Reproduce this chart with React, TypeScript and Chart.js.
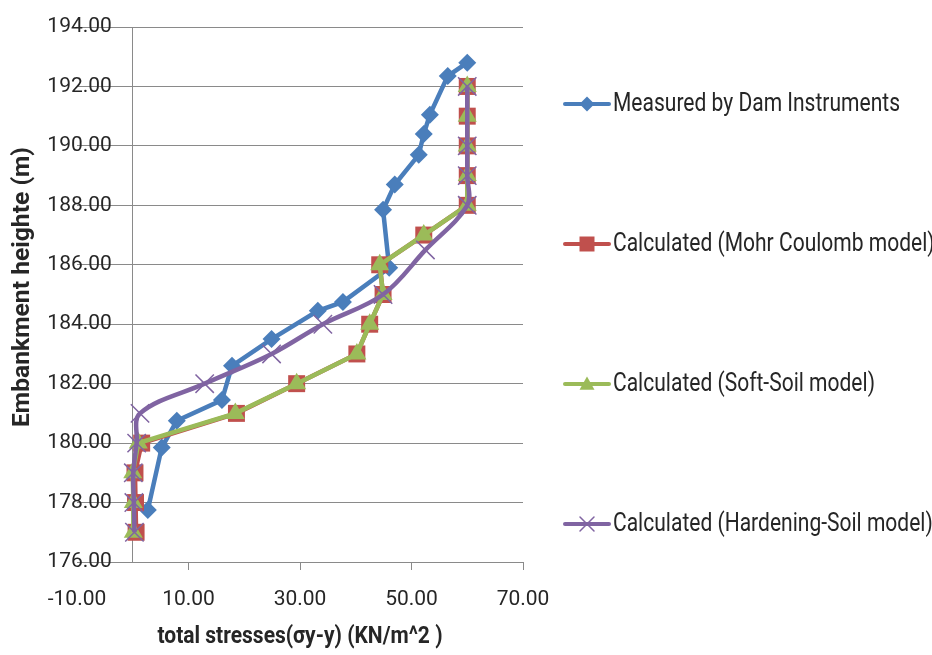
import React, { useEffect, useRef } from 'react';
import { Chart, registerables } from 'chart.js';

Chart.register(...registerables);

// ---------- data ----------
const seriesNames = [
  'Measured by Dam Instruments',
  'Calculated (Mohr Coulomb model)',
  'Calculated (Soft-Soil model)',
  'Calculated (Hardening-Soil model)',
];

const measuredStress = [60.0, 56.5, 53.3, 52.2, 51.3, 47.0, 44.9, 46.0, 37.7, 33.2, 24.9, 17.8, 16.0, 7.9, 5.2, 2.7];
const measuredHeight = [192.8, 192.35, 191.05, 190.4, 189.7, 188.7, 187.85, 185.9, 184.75, 184.45, 183.5, 182.6, 181.45, 180.75, 179.85, 177.75];

const modelHeight = [192, 191, 190, 189, 188, 187, 186, 185, 184, 183, 182, 181, 180, 179, 178, 177];
const mohrStress = [60, 60, 60, 60, 60, 52.2, 44.3, 44.9, 42.5, 40.2, 29.4, 18.6, 1.6, 0.4, 0.5, 0.6];
const softStress = [60, 60, 60, 60, 60, 52.2, 44.3, 44.9, 42.5, 40.2, 29.4, 18.4, 1.0, 0.0, 0.1, 0.1];

const hardHeight = [192, 190, 189, 188, 186.5, 185, 184, 183, 182, 181, 180, 179, 178, 177];
const hardStress = [60, 60, 60, 60, 52.5, 44.9, 34.1, 24.9, 12.9, 1.3, 0.7, 0.1, 0.2, 0.3];

const xTickValues = [-10, 10, 30, 50, 70];
const xMin = -10;
const xMax = 70;
const yMin = 176;
const yMax = 194;
const yStep = 2;

const xTitle = 'total stresses(σy-y) (KN/m^2 )';
const yTitle = 'Embankment heighte (m)';

// ---------- styles ----------
const FONT = "Roboto, 'Liberation Sans', sans-serif";
const TEXT = '#262626';
const GRID = '#8a8a8a';
const COLORS = ['#4A7EBB', '#C0504D', '#9BBB59', '#8064A2'];
const STYLES = ['rectRot', 'rect', 'triangle', 'crossRot'];

const toPoints = (xs: number[], ys: number[]) => xs.map((x, i) => ({ x, y: ys[i] }));

function drawMarker(ctx: CanvasRenderingContext2D, style: string, x: number, y: number, r: number, color: string) {
  ctx.save();
  ctx.fillStyle = color;
  ctx.strokeStyle = color;
  ctx.beginPath();
  if (style === 'rectRot') {
    ctx.moveTo(x, y - r);
    ctx.lineTo(x + r, y);
    ctx.lineTo(x, y + r);
    ctx.lineTo(x - r, y);
    ctx.closePath();
    ctx.fill();
  } else if (style === 'rect') {
    ctx.rect(x - r, y - r, 2 * r, 2 * r);
    ctx.fill();
  } else if (style === 'triangle') {
    ctx.moveTo(x, y - r);
    ctx.lineTo(x + r, y + r * 0.75);
    ctx.lineTo(x - r, y + r * 0.75);
    ctx.closePath();
    ctx.fill();
  } else {
    ctx.lineWidth = 1.5;
    ctx.moveTo(x - r, y - r);
    ctx.lineTo(x + r, y + r);
    ctx.moveTo(x + r, y - r);
    ctx.lineTo(x - r, y + r);
    ctx.stroke();
  }
  ctx.restore();
}

// draw text horizontally scaled to a target width
function fitText(ctx: CanvasRenderingContext2D, text: string, x: number, y: number, sx: number) {
  ctx.save();
  ctx.translate(x, y);
  ctx.scale(sx, 1);
  ctx.fillText(text, 0, 0);
  ctx.restore();
}

const overlayPlugin = {
  id: 'overlay',
  afterDraw(chart: any) {
    const { ctx, chartArea } = chart;
    ctx.save();
    ctx.fillStyle = TEXT;
    ctx.textBaseline = 'middle';

    // x title
    ctx.font = `bold 24px ${FONT}`;
    ctx.textAlign = 'center';
    let w = ctx.measureText(xTitle).width;
    fitText(ctx, xTitle, (chartArea.left + chartArea.right) / 2, 637, 285 / w);

    // y title
    ctx.font = `bold 23px ${FONT}`;
    w = ctx.measureText(yTitle).width;
    ctx.save();
    ctx.translate(23, 287);
    ctx.rotate(-Math.PI / 2);
    fitText(ctx, yTitle, 0, 0, 280 / w);
    ctx.restore();

    // legend
    ctx.font = `25px ${FONT}`;
    ctx.textAlign = 'left';
    const sx = 287 / ctx.measureText(seriesNames[0]).width;
    seriesNames.forEach((name, i) => {
      const cy = 104 + 140 * i;
      ctx.strokeStyle = COLORS[i];
      ctx.lineWidth = 4;
      ctx.lineCap = 'round';
      ctx.beginPath();
      ctx.moveTo(565, cy);
      ctx.lineTo(609, cy);
      ctx.stroke();
      drawMarker(ctx, STYLES[i], 587, cy, i === 3 ? 7 : 7.5, COLORS[i]);
      ctx.fillStyle = TEXT;
      fitText(ctx, name, 613, cy + 1, sx);
    });
    ctx.restore();
  },
};

export default function App() {
  const canvasRef = useRef<HTMLCanvasElement | null>(null);

  useEffect(() => {
    const canvas = canvasRef.current;
    if (!canvas) return;
    const lineW = 4.5;
    const chart = new Chart(canvas, {
      type: 'scatter',
      data: {
        datasets: [
          {
            label: seriesNames[0],
            data: toPoints(measuredStress, measuredHeight),
            showLine: true,
            borderColor: COLORS[0],
            backgroundColor: COLORS[0],
            borderWidth: lineW,
            pointStyle: 'rectRot',
            pointRadius: 9,
            pointBorderWidth: 0,
            order: 4,
          },
          {
            label: seriesNames[1],
            data: toPoints(mohrStress, modelHeight),
            showLine: true,
            borderColor: COLORS[1],
            backgroundColor: COLORS[1],
            borderWidth: lineW,
            pointStyle: 'rect',
            pointRadius: 12,
            pointBorderWidth: 0,
            order: 3,
          },
          {
            label: seriesNames[2],
            data: toPoints(softStress, modelHeight),
            showLine: true,
            borderColor: COLORS[2],
            backgroundColor: COLORS[2],
            borderWidth: lineW,
            pointStyle: 'triangle',
            pointRadius: 11,
            pointBorderWidth: 0,
            order: 2,
          },
          {
            label: seriesNames[3],
            data: toPoints(hardStress, hardHeight),
            showLine: true,
            borderColor: COLORS[3],
            backgroundColor: COLORS[3],
            borderWidth: lineW,
            tension: 0.35,
            pointStyle: 'crossRot',
            pointRadius: 13,
            pointBorderWidth: 1.5,
            order: 1,
          },
        ],
      },
      options: {
        animation: false,
        responsive: false,
        devicePixelRatio: 1,
        layout: { padding: { left: 77, right: 409, top: 27, bottom: 0 } },
        plugins: {
          legend: { display: false },
          tooltip: { enabled: false },
        },
        scales: {
          x: {
            type: 'linear',
            position: 'bottom',
            min: xMin,
            max: xMax,
            afterBuildTicks: (scale: any) => {
              scale.ticks = xTickValues.map((v) => ({ value: v }));
            },
            afterFit: (scale: any) => {
              scale.height = 93;
            },
            grid: {
              display: true,
              drawOnChartArea: false,
              drawTicks: true,
              tickLength: 8,
              color: (c: any) => (c.tick && c.tick.value === xMin ? 'rgba(0,0,0,0)' : GRID),
              lineWidth: 1,
            },
            border: { display: true, color: GRID, width: 1 },
            ticks: {
              color: TEXT,
              font: { family: FONT, size: 21 },
              padding: 17,
              maxRotation: 0,
              autoSkip: false,
              callback: (v: any) => Number(v).toFixed(2),
            },
          },
          y: {
            type: 'linear',
            position: { x: 0 } as any,
            min: yMin,
            max: yMax,
            grid: {
              display: true,
              color: GRID,
              lineWidth: 1,
              drawTicks: false,
            },
            border: { display: true, color: GRID, width: 1 },
            ticks: {
              stepSize: yStep,
              color: TEXT,
              font: { family: FONT, size: 21 },
              padding: 0,
              callback: (v: any) => Number(v).toFixed(2) + '    ',
            },
          },
        },
      },
      plugins: [overlayPlugin],
    });
    return () => chart.destroy();
  }, []);

  return (
    <div style={{ position: 'absolute', left: 0, top: 0, width: 932, height: 655, background: '#fff' }}>
      <canvas ref={canvasRef} width={932} height={655} style={{ width: 932, height: 655 }} />
    </div>
  );
}
